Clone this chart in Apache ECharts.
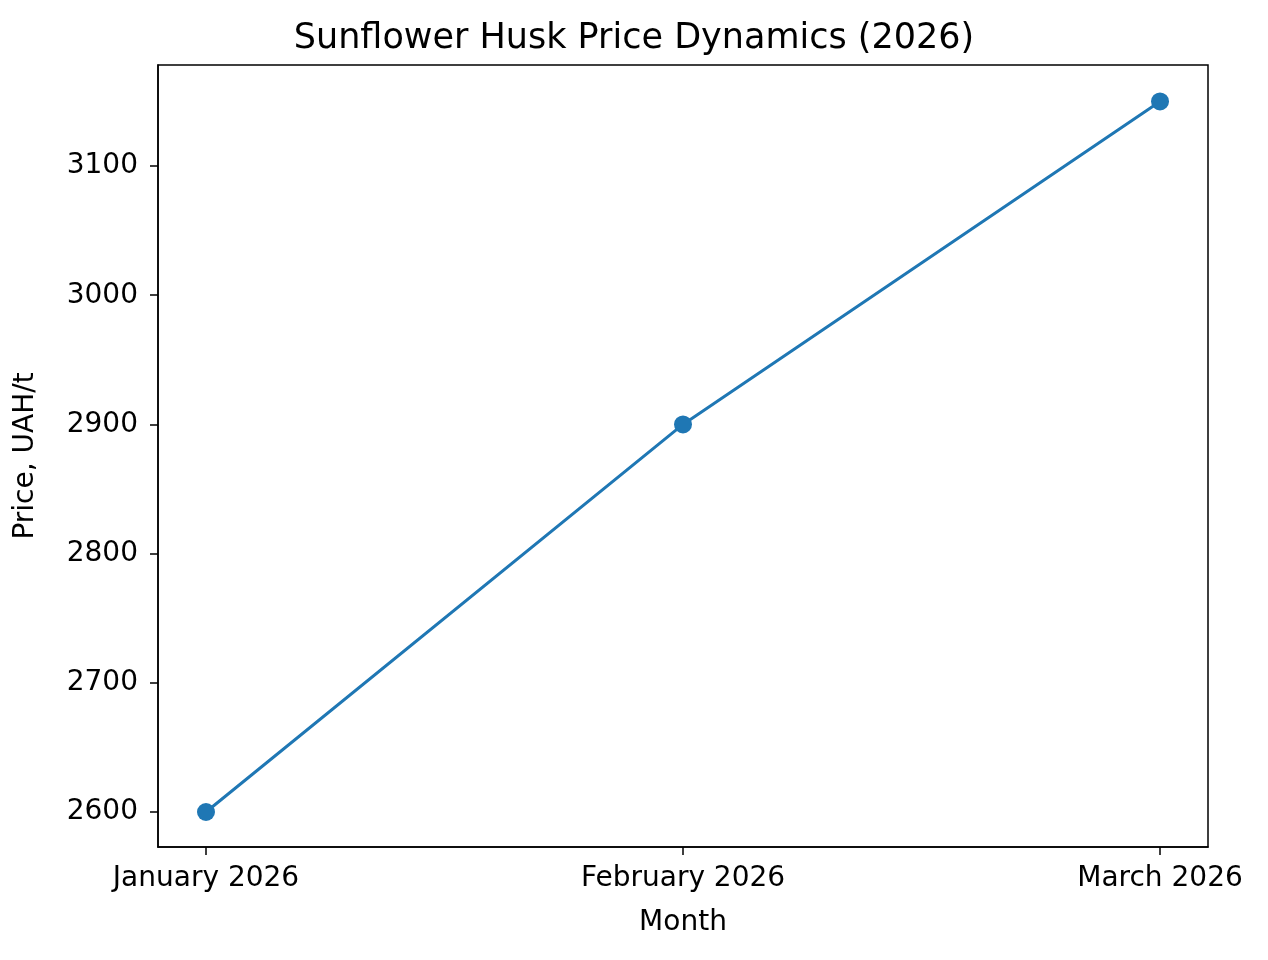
<!DOCTYPE html>
<html><head><meta charset="utf-8">
<script src="https://cdn.jsdelivr.net/npm/echarts@6/dist/echarts.min.js"></script>
<style>html,body{margin:0;padding:0;background:#fff}#c{width:1268px;height:960px}</style>
</head><body><div id="c"></div>
<script>
const categories = ['January 2026', 'February 2026', 'March 2026'];
const prices = [2600, 2900, 3150];
const yTicks = [2600, 2700, 2800, 2900, 3000, 3100];

const chart = echarts.init(document.getElementById('c'));
const font = 'DejaVu Sans';
chart.setOption({
  animation: false,
  title: { text: 'Sunflower Husk Price Dynamics (2026)', left: 'center', top: 16,
    textStyle: { fontFamily: font, fontSize: 35, fontWeight: 'normal', color: '#000' } },
  grid: { left: 158, right: 60, top: 65, bottom: 113 },
  xAxis: {
    type: 'value', min: -0.1006, max: 2.1006,
    name: 'Month', nameLocation: 'middle', nameGap: 62,
    nameTextStyle: { fontFamily: font, fontSize: 28, color: '#000' },
    axisLine: { show: true, onZero: false, lineStyle: { color: '#000', width: 1.5 } },
    axisTick: { show: true, customValues: [0, 1, 2], length: 8, lineStyle: { color: '#000', width: 1.5 } },
    axisLabel: { customValues: [0, 1, 2], formatter: v => categories[Math.round(v)] ?? '',
      fontFamily: font, fontSize: 28, color: '#000', margin: 18 },
    splitLine: { show: false }
  },
  yAxis: {
    type: 'value', min: 2572.9, max: 3178.2,
    name: 'Price, UAH/t', nameLocation: 'middle', nameGap: 118,
    nameTextStyle: { fontFamily: font, fontSize: 28, color: '#000' },
    axisLine: { show: true, onZero: false, lineStyle: { color: '#000', width: 1.5 } },
    axisTick: { show: true, customValues: yTicks, length: 8, lineStyle: { color: '#000', width: 1.5 } },
    axisLabel: { customValues: yTicks, formatter: v => String(v), fontFamily: font, fontSize: 28, color: '#000', margin: 20 },
    splitLine: { show: false }
  },
  series: [{
    type: 'line', data: prices.map((v, i) => [i, v]),
    symbol: 'circle', symbolSize: 18,
    lineStyle: { color: '#1f77b4', width: 3 },
    itemStyle: { color: '#1f77b4' }
  }],
  graphic: [{ type: 'rect', shape: { x: 158, y: 65, width: 1050, height: 782 },
    style: { fill: 'none', stroke: '#000', lineWidth: 1.5 }, silent: true, z: 100 }]
});
</script></body></html>
